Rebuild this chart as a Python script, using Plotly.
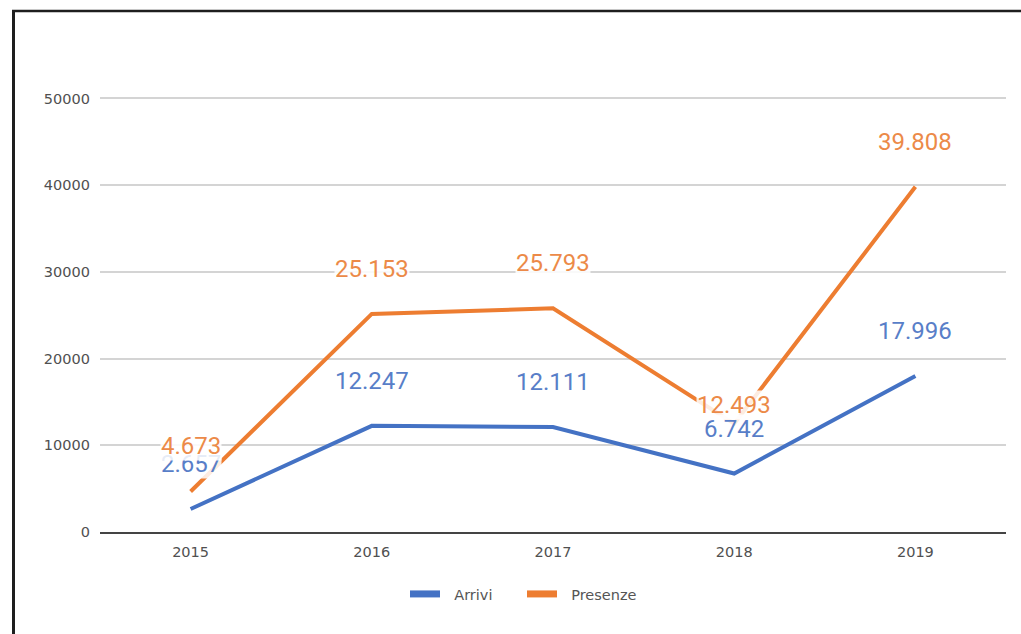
import plotly.graph_objects as go

# Tourism flows by year
years = ["2015", "2016", "2017", "2018", "2019"]
arrivi = [2657, 12247, 12111, 6742, 17996]
presenze = [4673, 25153, 25793, 12493, 39808]

BLUE = "#4472c4"
ORANGE = "#ed7d31"
BLUE_LABEL = "#587ec8"
ORANGE_LABEL = "#ec8a48"

W, H = 1021, 634
ML, MR, MT, MB = 100, 15, 95, 102
PW, PH = W - ML - MR, H - MT - MB
Y_TOP = 50400  # a little headroom so the 50000 gridline is drawn


def fmt_it(v):
    # Italian thousands separator
    return f"{v:,}".replace(",", ".")


def px_x(p):
    return (p - ML) / PW


def px_y(p):
    return (H - MB - p) / PH


fig = go.Figure()
for name, vals, col in [("Arrivi", arrivi, BLUE), ("Presenze", presenze, ORANGE)]:
    fig.add_trace(go.Scatter(
        x=years, y=vals, mode="lines", name=name,
        line=dict(color=col, width=4), showlegend=False, hoverinfo="skip",
    ))

# legend-only entries with a thicker swatch
NB = "\u00a0\u00a0"
for name, col in [("Arrivi", BLUE), ("Presenze", ORANGE)]:
    fig.add_trace(go.Scatter(
        x=[None], y=[None], mode="lines", name=NB + name,
        line=dict(color=col, width=7),
    ))

# value labels above each point (x given as category index)
label_shift = {("Presenze", 3): 19}
annotations = []
for name, vals, col in [("Arrivi", arrivi, BLUE_LABEL), ("Presenze", presenze, ORANGE_LABEL)]:
    for i, v in enumerate(vals):
        annotations.append(dict(
            x=i, y=v, xref="x", yref="y", text=fmt_it(v), showarrow=False,
            yanchor="middle", yshift=label_shift.get((name, i), 45),
            font=dict(family="Roboto", size=24, color=col),
            bgcolor="rgba(255,255,255,0.85)", borderpad=0,
        ))

shapes = [
    # outer frame (left and top edges)
    dict(type="line", xref="paper", yref="paper",
         x0=px_x(13.5), x1=px_x(13.5), y0=px_y(10), y1=px_y(640),
         line=dict(color="#1e1e1e", width=3)),
    dict(type="line", xref="paper", yref="paper",
         x0=px_x(12), x1=px_x(1025), y0=px_y(11), y1=px_y(11),
         line=dict(color="#1e1e1e", width=2.5)),
]

fig.update_layout(
    width=W, height=H,
    margin=dict(l=ML, r=MR, t=MT, b=MB),
    paper_bgcolor="white", plot_bgcolor="white",
    annotations=annotations, shapes=shapes,
    legend=dict(
        orientation="h", x=px_x(522), xanchor="center",
        y=px_y(594), yanchor="middle",
        font=dict(family="DejaVu Sans", size=14.5, color="#555555"),
        itemwidth=30, entrywidth=72, bgcolor="rgba(0,0,0,0)",
    ),
    xaxis=dict(
        type="category", categoryorder="array", categoryarray=years,
        range=[-0.5, len(years) - 0.5],
        showgrid=False, showline=True, linecolor="#444444", linewidth=2,
        ticks="", tickfont=dict(family="DejaVu Sans", size=14.5, color="#505050"),
        ticklabelstandoff=6,
    ),
    yaxis=dict(
        range=[0, Y_TOP], tickvals=[0, 10000, 20000, 30000, 40000, 50000],
        tickformat="d", showgrid=True, gridcolor="#d4d4d4", gridwidth=1.5,
        zeroline=False, showline=False, ticks="",
        tickfont=dict(family="DejaVu Sans", size=14.5, color="#505050"),
        ticklabelstandoff=9,
    ),
)

fig.write_html("out.html")
